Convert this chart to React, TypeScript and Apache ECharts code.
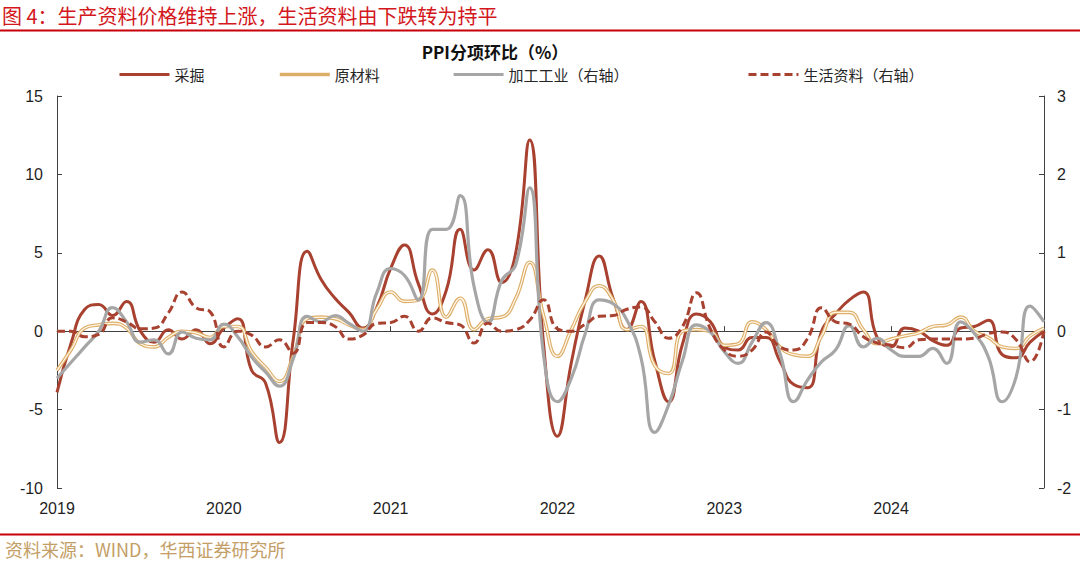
import React, { useEffect, useRef } from 'react';
import * as echarts from 'echarts';

// month-end data points, 2018-12 .. 2024-11
const months = [
  '2018-12',
  '2019-01','2019-02','2019-03','2019-04','2019-05','2019-06','2019-07','2019-08','2019-09','2019-10','2019-11','2019-12',
  '2020-01','2020-02','2020-03','2020-04','2020-05','2020-06','2020-07','2020-08','2020-09','2020-10','2020-11','2020-12',
  '2021-01','2021-02','2021-03','2021-04','2021-05','2021-06','2021-07','2021-08','2021-09','2021-10','2021-11','2021-12',
  '2022-01','2022-02','2022-03','2022-04','2022-05','2022-06','2022-07','2022-08','2022-09','2022-10','2022-11','2022-12',
  '2023-01','2023-02','2023-03','2023-04','2023-05','2023-06','2023-07','2023-08','2023-09','2023-10','2023-11','2023-12',
  '2024-01','2024-02','2024-03','2024-04','2024-05','2024-06','2024-07','2024-08','2024-09','2024-10','2024-11',
];
const yearLabels = ['2019', '2020', '2021', '2022', '2023', '2024'];

// 采掘 (left axis, %)
const mining = [
  -3.9, -0.8, 1.4, 1.7, 1.0, 1.9, 0.0, -0.7, 0.1, -0.5, 0.1, -0.8,
  0.2, 0.8, -2.5, -3.3, -7.1, -0.5, 5.1, 3.3, 2.1, 1.2, 0.2, 1.5,
  4.0, 5.5, 3.0, 1.1, 2.6, 6.5, 3.9, 5.2, 3.1, 5.0, 12.2, -0.8,
  -6.7, -2.0, 2.0, 4.8, 2.1, 0.1, 1.9, -1.9, -4.5, -0.8, 1.1, 0.6,
  -1.0, -1.2, -0.4, -0.4, -1.9, -3.4, -3.6, 0.0, 1.1, 2.0, 2.5, -0.4,
  -1.0, 0.2, 0.0, -0.6, -0.9, 0.2, 0.3, 0.7, -1.5, -1.7, -0.7, 0.0,
];
// 原材料 (left axis, %)
const rawMaterial = [
  -2.5, -1.2, 0.2, 0.4, 0.5, 0.2, -0.8, -1.0, -0.4, 0.0, -0.1, -0.4,
  0.3, 0.3, -1.3, -2.3, -3.2, -1.6, 0.8, 0.9, 0.8, 0.4, 0.1, 1.4,
  2.5, 1.9, 2.0, 3.9, 0.9, 2.1, 0.1, 0.8, 0.9, 2.1, 4.4, 1.0,
  -1.6, 0.1, 1.9, 2.9, 2.0, 0.1, 0.3, -2.2, -2.7, 0.0, 0.1, 0.0,
  -0.9, -0.8, 0.6, 0.1, -1.0, -1.5, -1.6, -0.3, 1.2, 1.2, 0.1, -0.8,
  -0.5, -0.3, -0.1, 0.3, 0.4, 0.9, 0.0, -0.4, -1.0, -1.1, -0.3, 0.2,
];
// 加工工业 (right axis, %)
const processing = [
  -0.6, -0.4, -0.2, 0.0, 0.3, 0.12, -0.14, -0.11, -0.29, -0.01, -0.09, -0.11,
  0.09, -0.07, -0.33, -0.52, -0.7, -0.35, 0.19, 0.12, 0.2, 0.1, 0.0, 0.49,
  0.8, 0.71, 0.4, 1.3, 1.3, 1.73, 0.57, 0.11, 0.65, 0.85, 1.83, -0.3,
  -0.9, -0.6, -0.03, 0.4, 0.35, 0.14, -0.33, -1.29, -0.94, -0.37, 0.08, -0.01,
  -0.26, -0.41, -0.14, 0.11, -0.28, -0.9, -0.62, -0.39, -0.24, 0.07, -0.2, -0.09,
  -0.24, -0.32, -0.32, -0.22, -0.41, 0.12, -0.03, -0.33, -0.9, -0.58, 0.32, 0.12,
];
// 生活资料 (right axis, %)
const living = [
  0.0, 0.0, -0.07, -0.04, 0.17, 0.12, 0.03, 0.04, 0.23, 0.5, 0.3, 0.25,
  -0.2, 0.0, -0.05, -0.2, -0.11, -0.28, 0.11, 0.11, 0.06, -0.1, -0.05, 0.1,
  0.11, 0.19, 0.0, 0.17, 0.11, 0.08, -0.15, 0.1, 0.0, 0.02, 0.14, 0.4,
  0.03, 0.0, 0.09, 0.19, 0.2, 0.28, 0.31, 0.12, -0.09, 0.06, 0.49, 0.03,
  -0.24, -0.32, -0.24, -0.01, -0.2, -0.24, -0.09, 0.3, 0.12, 0.09, -0.07, -0.15,
  -0.18, -0.21, -0.11, -0.1, -0.1, -0.1, -0.09, -0.03, -0.01, -0.11, -0.39, 0.0,
];

const RED = '#A8412F';
const GRAY = '#A6A6A6';
const TAN = '#DDAE68';
const TAN_IN = '#FFF6E8';
const AXIS = '#404040';
const LABEL = '#1F1F1F';
const CJK = '"Noto Sans CJK SC", "Noto Sans", sans-serif';
const LATIN = 'Arial, "Liberation Sans", sans-serif';

export default function App() {
  const ref = useRef<HTMLDivElement>(null);
  useEffect(() => {
    document.body.style.margin = '0';
    const chart = echarts.init(ref.current!, null, { renderer: 'svg' });
    const yearTick = (i: number) => i % 12 === 0;
    const legendText = { fontSize: 15, color: '#262626', fontFamily: CJK };
    const legendBase = {
      top: 67, itemWidth: 50, itemHeight: 14, padding: 0, itemGap: 0, textStyle: legendText,
      itemStyle: { color: 'rgba(0,0,0,0)', borderColor: 'rgba(0,0,0,0)', borderWidth: 0, opacity: 0 },
    };
    chart.setOption({
      animation: false,
      backgroundColor: '#ffffff',
      grid: { left: 57, right: 36, top: 96, bottom: 75, containLabel: false },
      legend: [
        { ...legendBase, left: 118, data: ['采掘'], lineStyle: { width: 3 } },
        { ...legendBase, left: 278, data: ['原材料'], lineStyle: { width: 3.6 } },
        { ...legendBase, left: 452, data: ['加工工业（右轴）'], lineStyle: { width: 3.2 } },
        { ...legendBase, left: 747, data: ['生活资料（右轴）'], lineStyle: { width: 3 } },
      ],
      xAxis: [
        {
          type: 'category',
          data: months,
          boundaryGap: false,
          position: 'bottom',
          axisLine: { show: false, onZero: false },
          axisTick: { show: false },
          axisLabel: {
            interval: (i: number) => yearTick(i),
            formatter: (_v: string, i: number) => yearLabels[Math.floor(i / 12)],
            fontSize: 16,
            color: LABEL,
            fontFamily: LATIN,
            margin: 12,
          },
          splitLine: { show: false },
        },
        {
          type: 'category',
          data: months,
          boundaryGap: false,
          position: 'top',
          axisLine: { show: true, onZero: true, lineStyle: { color: AXIS, width: 1 } },
          axisTick: { show: true, inside: false, length: 5, interval: (i: number) => yearTick(i), lineStyle: { color: AXIS } },
          axisLabel: { show: false },
          splitLine: { show: false },
        },
      ],
      yAxis: [
        {
          type: 'value',
          position: 'left',
          min: -10,
          max: 15,
          interval: 5,
          axisLine: { show: true, lineStyle: { color: AXIS } },
          axisTick: { show: true, inside: true, length: 5, lineStyle: { color: AXIS } },
          axisLabel: { fontSize: 16, color: LABEL, fontFamily: LATIN, margin: 14 },
          splitLine: { show: false },
        },
        {
          type: 'value',
          position: 'right',
          min: -2,
          max: 3,
          interval: 1,
          axisLine: { show: true, lineStyle: { color: AXIS } },
          axisTick: { show: true, inside: true, length: 5, lineStyle: { color: AXIS } },
          axisLabel: { fontSize: 16, color: LABEL, fontFamily: LATIN, margin: 13 },
          splitLine: { show: false },
        },
      ],
      series: [
        {
          name: '采掘', type: 'line', data: mining, smooth: true, symbol: 'none',
          xAxisIndex: 0, yAxisIndex: 0,
          lineStyle: { width: 3, color: RED }, itemStyle: { color: RED },
        },
        {
          name: '原材料', type: 'line', data: rawMaterial, smooth: true, symbol: 'none',
          xAxisIndex: 0, yAxisIndex: 0,
          lineStyle: { width: 3.6, color: TAN }, itemStyle: { color: TAN },
        },
        {
          name: '原材料', type: 'line', data: rawMaterial, smooth: true, symbol: 'none',
          xAxisIndex: 1, yAxisIndex: 0,
          lineStyle: { width: 1.3, color: TAN_IN }, itemStyle: { color: TAN_IN },
        },
        {
          name: '加工工业（右轴）', type: 'line', data: processing, smooth: true, symbol: 'none',
          xAxisIndex: 0, yAxisIndex: 1,
          lineStyle: { width: 3.2, color: GRAY }, itemStyle: { color: GRAY },
        },
        {
          name: '生活资料（右轴）', type: 'line', data: living, smooth: true, symbol: 'none',
          xAxisIndex: 1, yAxisIndex: 1,
          lineStyle: { width: 3, color: RED, type: [8, 4] }, itemStyle: { color: RED },
        },
      ],
      graphic: [
        {
          type: 'text', left: 2, top: 4,
          style: { text: '图 4：生产资料价格维持上涨，生活资料由下跌转为持平', fill: '#D3171C', fontSize: 20, lineHeight: 22, fontFamily: CJK },
        },
        { type: 'rect', shape: { x: 0, y: 29.5, width: 1080, height: 2 }, style: { fill: '#C8000A' } },
        {
          type: 'text', x: 495, y: 51,
          style: { text: 'PPI分项环比（%）', fill: '#111111', fontSize: 17, fontWeight: 'bold', fontFamily: CJK, textAlign: 'center', textVerticalAlign: 'middle' },
        },
        { type: 'rect', shape: { x: 0, y: 533.5, width: 1080, height: 2 }, style: { fill: '#C8000A' } },
        {
          type: 'text', left: 5, top: 539,
          style: { text: '资料来源：WIND，华西证券研究所', fill: '#C39E66', fontSize: 18, lineHeight: 20, fontFamily: CJK },
        },
      ],
    });
    return () => chart.dispose();
  }, []);
  return <div ref={ref} style={{ width: 1080, height: 563, position: 'fixed', left: 0, top: 0 }} />;
}
